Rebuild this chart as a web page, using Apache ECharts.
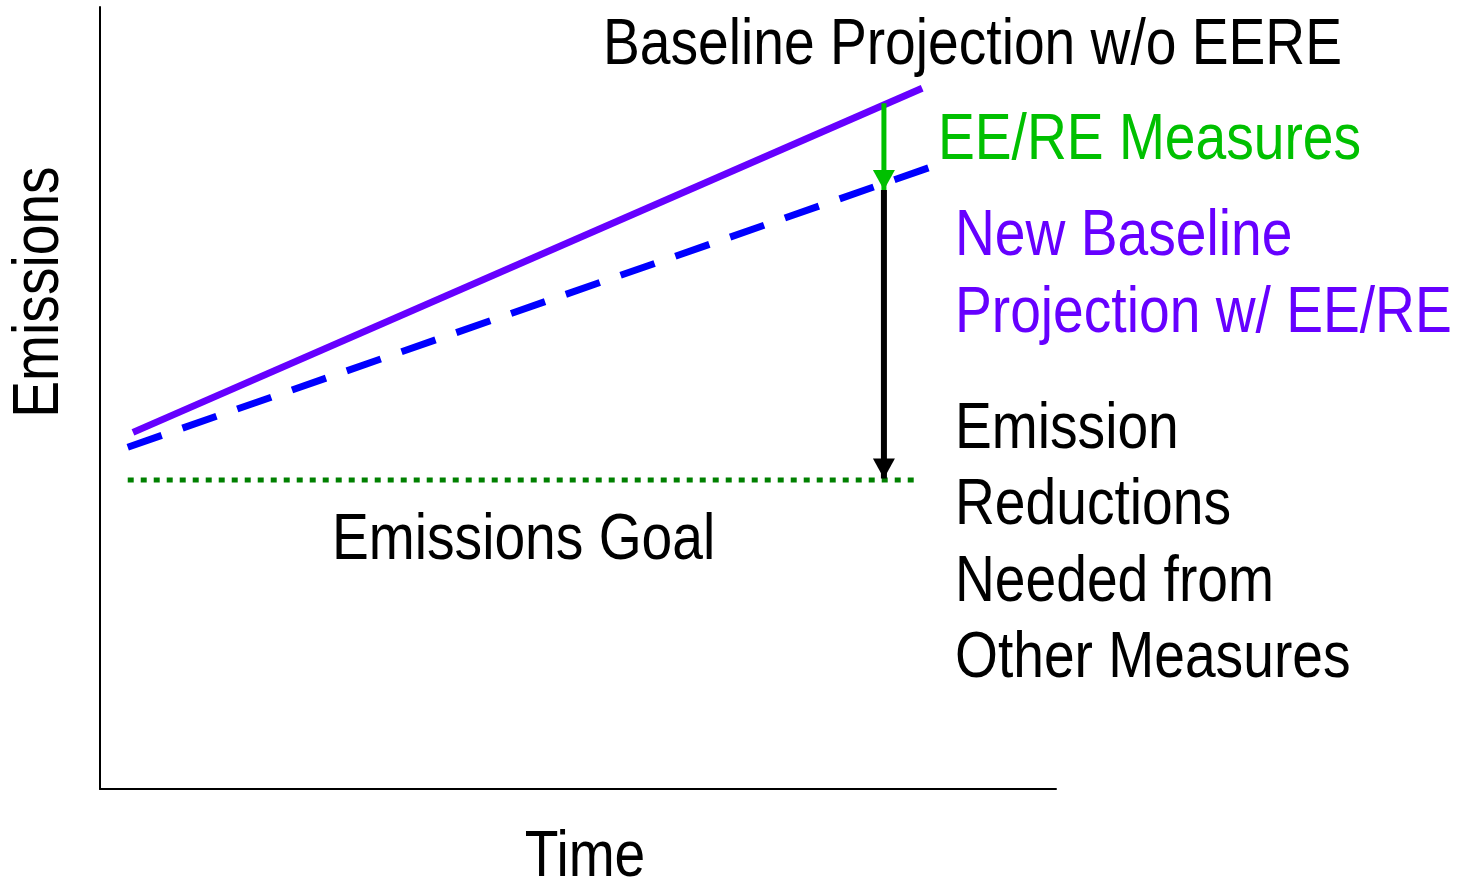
<!DOCTYPE html>
<html><head><meta charset="utf-8">
<script src="https://cdn.jsdelivr.net/npm/echarts@6/dist/echarts.min.js"></script>
<style>html,body{margin:0;padding:0;background:#fff}#c{width:1464px;height:881px}</style>
</head><body><div id="c"></div>
<script>
// Data (abstract units: time 0-100, emissions 0-100)
const baselineX = [3.45, 86.0];
const baselineY = [45.6, 89.6];
const newBaselineX = [2.9, 87.3];
const newBaselineY = [43.7, 79.7];
const goalX = [2.9, 85.6];
const goalY = [39.5, 39.5];
const arrowX = [82.0, 82.0];
const eereArrowY = [87.7, 76.6];
const otherArrowY = [76.6, 39.7];

const FONT = '"Liberation Sans", Arial, sans-serif';
const FS = 64;
const SX = 0.862;

const chart = echarts.init(document.getElementById('c'));
function pts(xs, ys){ return xs.map((x,i)=>[x, ys[i]]); }
function txt(t, x, y, color, align){
  return {type:'text', x:x, y:y, scaleX:SX, style:{text:t, fill:color, font: FS+'px '+FONT, align: align||'left', verticalAlign:'middle'}};
}
// arrow: shaft line + downward triangle head whose tip sits at the end value
function arrow(xs, ys, color, width){
  return [
    {type:'line', data:pts(xs, ys), showSymbol:false, silent:true, lineStyle:{color:color, width:width, cap:'butt'}, z:5},
    {type:'scatter', data:[[xs[1], ys[1]]], symbol:'triangle', symbolSize:[22,20], symbolRotate:180, symbolOffset:[0,-10],
      itemStyle:{color:color, opacity:1}, silent:true, z:6}
  ];
}
chart.setOption({
  animation:false,
  grid:{left:100, top:7, width:956, height:782},
  xAxis:{type:'value', min:0, max:100, axisLine:{show:true, onZero:false, lineStyle:{color:'#000', width:2}}, axisTick:{show:false}, axisLabel:{show:false}, splitLine:{show:false}},
  yAxis:{type:'value', min:0, max:100, axisLine:{show:true, onZero:false, lineStyle:{color:'#000', width:2}}, axisTick:{show:false}, axisLabel:{show:false}, splitLine:{show:false}},
  series:[
    {type:'line', data:pts(goalX, goalY), showSymbol:false, lineStyle:{color:'#008000', width:5, type:[6,7], cap:'butt'}},
    {type:'line', data:pts(newBaselineX, newBaselineY), showSymbol:false, lineStyle:{color:'#0000ff', width:7, type:[36,22], cap:'butt'}},
    {type:'line', data:pts(baselineX, baselineY), showSymbol:false, lineStyle:{color:'#6600ff', width:7, cap:'butt'}},
    ...arrow(arrowX, otherArrowY, '#000000', 6),
    ...arrow(arrowX, eereArrowY, '#00c000', 5)
  ],
  graphic:[
    txt('Baseline Projection w/o EERE', 603, 46, '#000'),
    txt('EE/RE Measures', 938, 141, '#00c000'),
    txt('New Baseline', 955, 237, '#6600ff'),
    txt('Projection w/ EE/RE', 955, 314, '#6600ff'),
    txt('Emission', 955, 430, '#000'),
    txt('Reductions', 955, 506, '#000'),
    txt('Needed from', 955, 583, '#000'),
    txt('Other Measures', 955, 659, '#000'),
    txt('Emissions Goal', 332, 541, '#000'),
    txt('Time', 585, 858, '#000', 'center'),
    {type:'text', x:40, y:292, rotation:Math.PI/2, scaleX:SX, style:{text:'Emissions', fill:'#000', font: FS+'px '+FONT, align:'center', verticalAlign:'middle'}}
  ]
});
</script></body></html>
